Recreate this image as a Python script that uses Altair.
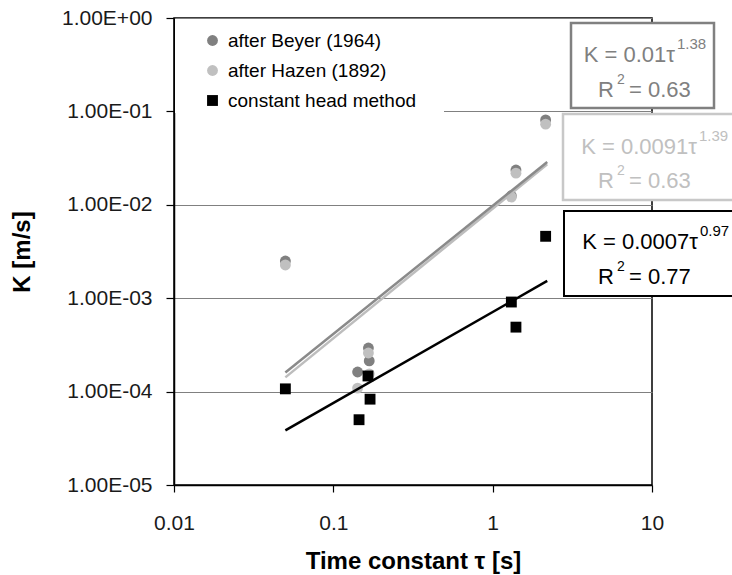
import altair as alt
import pandas as pd

# ---- data ----
series_names = ["after Beyer (1964)", "after Hazen (1892)", "constant head method"]

beyer_tau = [0.05, 0.142, 0.166, 0.168, 1.31, 1.40, 2.15]
beyer_k = [2.5e-3, 1.62e-4, 2.93e-4, 2.13e-4, 1.25e-2, 2.36e-2, 8.1e-2]

hazen_tau = [0.05, 0.142, 0.166, 0.168, 1.31, 1.40, 2.15]
hazen_k = [2.27e-3, 1.09e-4, 2.59e-4, 1.55e-4, 1.21e-2, 2.18e-2, 7.3e-2]

head_tau = [0.05, 0.145, 0.165, 0.170, 1.31, 1.40, 2.15]
head_k = [1.07e-4, 5.0e-5, 1.47e-4, 8.3e-5, 9.1e-4, 4.9e-4, 4.6e-3]

# power-law trend lines (straight on log-log), endpoints
trend_tau = [0.05, 2.2]
beyer_fit = [1.6e-4, 2.87e-2]
hazen_fit = [1.42e-4, 2.72e-2]
head_fit = [3.85e-5, 1.53e-3]

eq_main = ["K = 0.01τ", "K = 0.0091τ", "K = 0.0007τ"]
eq_exp = ["1.38", "1.39", "0.97"]
eq_r2 = ["0.63", "0.63", "0.77"]

y_ticks = [1e-5, 1e-4, 1e-3, 1e-2, 1e-1, 1]
x_ticks = [0.01, 0.1, 1, 10]

# ---- tables ----
rows = []
i = 0
for name, taus, ks in [(series_names[0], beyer_tau, beyer_k),
                       (series_names[1], hazen_tau, hazen_k),
                       (series_names[2], head_tau, head_k)]:
    for t, k in zip(taus, ks):
        rows.append({"series": name, "tau": t, "K": k, "idx": i})
        i += 1
df = pd.DataFrame(rows)

FONT = "Liberation Sans"
W, H = 478, 467
colors = ["#808080", "#c0c0c0", "#000000"]

x_scale = alt.Scale(type="log", domain=[0.01, 10])
y_scale = alt.Scale(type="log", domain=[1e-5, 1])

x_axis = alt.Axis(values=x_ticks, labelExpr="format(datum.value, '~g')", grid=False,
                  labelFlush=False, labelOverlap=False,
                  tickSize=7, tickColor="black", domainColor="black", domainWidth=1.5,
                  tickWidth=1.2, labelFontSize=21, labelFont=FONT, labelColor="#1a1a1a",
                  labelPadding=20, titleFont=FONT, titleFontSize=24, titleFontWeight="bold",
                  titleColor="black", titlePadding=16)
y_axis = alt.Axis(values=y_ticks,
                  labelExpr="datum.value >= 1 ? '1.00E+00' : '1.00E-0' + round(-log(datum.value)/LN10)",
                  grid=True, gridColor="#808080", gridWidth=1,
                  labelFlush=False, labelOverlap=False,
                  tickSize=8, tickColor="black", domainColor="black", domainWidth=1.5,
                  tickWidth=1.2, labelFontSize=21, labelFont=FONT, labelColor="#1a1a1a",
                  labelPadding=14, titleFont=FONT, titleFontSize=24, titleFontWeight="bold",
                  titleColor="black", titlePadding=27)

# white legend background covering the grid line
legend_bg = alt.Chart(pd.DataFrame({"a": [0]})).mark_rect(color="white").encode(
    x=alt.value(1), x2=alt.value(270), y=alt.value(1), y2=alt.value(95))

leg = alt.Legend(title=None, orient="none", legendX=24, legendY=8,
                 padding=5, labelFont=FONT, labelFontSize=19,
                 labelColor="black", symbolSize=140, symbolStrokeWidth=0,
                 labelOffset=6, rowPadding=10, labelLimit=400)

points = alt.Chart(df).mark_point(filled=True, opacity=1, strokeWidth=0).encode(
    x=alt.X("tau:Q", scale=x_scale, axis=x_axis, title="Time constant τ [s]"),
    y=alt.Y("K:Q", scale=y_scale, axis=y_axis, title="K [m/s]"),
    color=alt.Color("series:N", scale=alt.Scale(domain=series_names, range=colors), legend=leg),
    shape=alt.Shape("series:N", scale=alt.Scale(domain=series_names,
                                                range=["circle", "circle", "square"]),
                    legend=leg),
    size=alt.Size("series:O", scale=alt.Scale(domain=series_names, range=[118, 118, 150]),
                  legend=None),
    order=alt.Order("idx:Q"),
)

def trend(fit, color):
    d = pd.DataFrame({"tau": trend_tau, "K": fit})
    return alt.Chart(d).mark_line(color=color, strokeWidth=2.5).encode(
        x=alt.X("tau:Q", scale=x_scale), y=alt.Y("K:Q", scale=y_scale))

lines = trend(hazen_fit, "#bdbdbd") + trend(beyer_fit, "#8a8a8a") + trend(head_fit, "#000000")

ox, oy = 174, 18  # plot origin in the page

def box(x1, x2, y1, y2, stroke, sw):
    return alt.Chart(pd.DataFrame({"a": [0]})).mark_rect(
        fill="white", stroke=stroke, strokeWidth=sw, clip=False).encode(
        x=alt.value(x1 - ox), x2=alt.value(x2 - ox), y=alt.value(y1 - oy), y2=alt.value(y2 - oy))

def txt(s, x, y, size, color, align):
    return alt.Chart(pd.DataFrame({"t": [s]})).mark_text(
        font=FONT, fontSize=size, color=color, align=align, baseline="middle", clip=False).encode(
        text="t:N", x=alt.value(x - ox), y=alt.value(y - oy))

eq_layers = []
specs = [
    # box x1,x2,y1,y2, stroke, sw, text color, L1 right x, L1 y, sup y, L2 y, sup2 y
    (571, 714, 23, 108, "#808080", 2.5, "#808080", 675, 55, 44, 90, 80),
    (563, 745, 114, 200, "#c8c8c8", 2.5, "#c0c0c0", 697, 147, 136, 181, 171),
    (564, 745, 211, 296, "#000000", 2.0, "#000000", 698, 242, 231, 277, 267),
]
for k, (x1, x2, y1, y2, st, sw, tc, rx, ly1, sy1, ly2, sy2) in enumerate(specs):
    eq_layers.append(box(x1, x2, y1, y2, st, sw))
    eq_layers.append(txt(eq_main[k], rx, ly1, 22, tc, "right"))
    eq_layers.append(txt(eq_exp[k], rx + 2, sy1, 15, tc, "left"))
    eq_layers.append(txt("R", 614, ly2, 22, tc, "right"))
    eq_layers.append(txt("2", 617, sy2, 14, tc, "left"))
    eq_layers.append(txt("= " + eq_r2[k], 629, ly2, 22, tc, "left"))

chart = alt.layer(legend_bg, points, lines, *eq_layers).properties(
    width=W, height=H,
    background="white",
    autosize=alt.AutoSizeParams(type="none"),
    padding={"left": 174, "top": 18, "right": 80, "bottom": 90},
).configure_view(stroke="black", strokeWidth=1.5)

chart.save("out.html", embed_options={"renderer": "svg", "actions": False})
